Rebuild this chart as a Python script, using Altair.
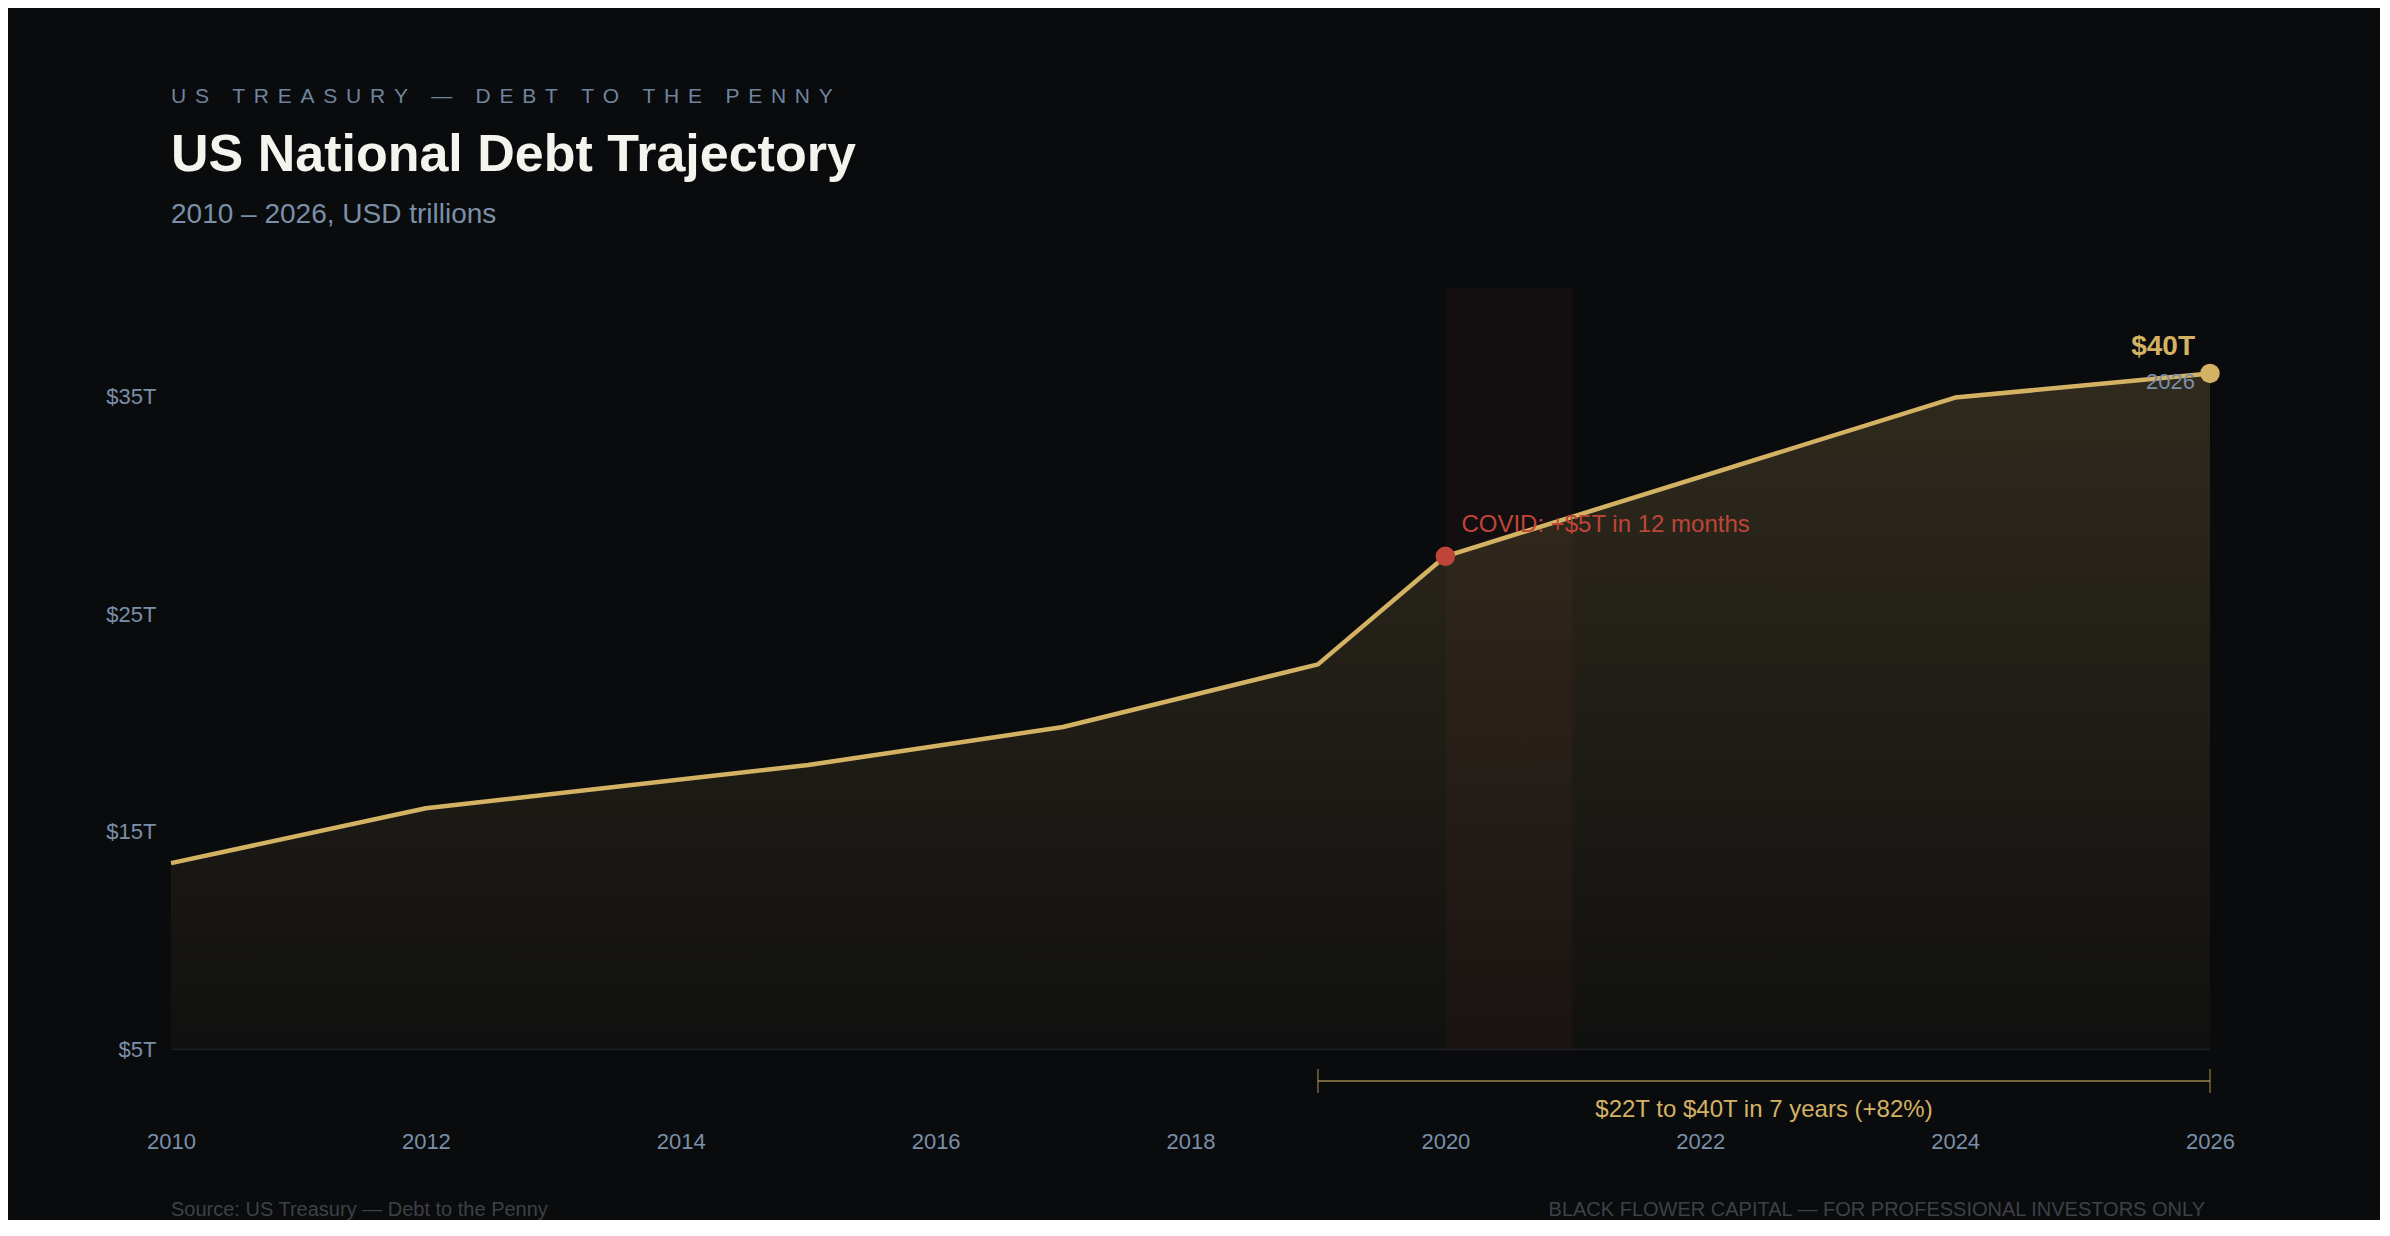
import altair as alt
import pandas as pd

# debt outstanding, USD trillions
YEARS = [2010, 2012, 2015, 2017, 2019, 2020, 2024, 2026]
DEBT = [13.55, 16.07, 18.06, 19.81, 22.69, 27.66, 34.96, 36.07]

Y_TICKS = [5, 15, 25, 35]
X_TICKS = [2010, 2012, 2014, 2016, 2018, 2020, 2022, 2024, 2026]

COVID_START = [2020]
COVID_END = [2021]
COVID_YEAR = [2020]
COVID_NOTE = ["COVID: +$5T in 12 months"]

RUN_START = [2019]
RUN_END = [2026]
RUN_NOTE = ["$22T to $40T in 7 years (+82%)"]

END_VALUE_LABEL = ["$40T"]
END_YEAR_LABEL = ["2026"]

EYEBROW = "US TREASURY — DEBT TO THE PENNY"
TITLE = "US National Debt Trajectory"
SUBTITLE = "2010 – 2026, USD trillions"
SOURCE = "Source: US Treasury — Debt to the Penny"
DISCLAIMER = "BLACK FLOWER CAPITAL — FOR PROFESSIONAL INVESTORS ONLY"

BG = "#0a0b0d"
GOLD = "#d4b264"
RED = "#bf4538"
SLATE = "#7a8fa8"
DIM = "#3d4148"
FONT = "Liberation Sans, Arial, Helvetica, sans-serif"

W, H = 2039, 761

debt = pd.DataFrame({"year": YEARS, "debt": DEBT})
covid = pd.DataFrame(
    {"start": COVID_START, "end": COVID_END, "year": COVID_YEAR,
     "debt": [DEBT[YEARS.index(COVID_YEAR[0])]], "note": COVID_NOTE}
)
run = pd.DataFrame({"start": RUN_START, "end": RUN_END, "note": RUN_NOTE})
end = pd.DataFrame(
    {"year": [YEARS[-1]], "debt": [DEBT[-1]],
     "value_label": END_VALUE_LABEL, "year_label": END_YEAR_LABEL}
)

x_scale = alt.Scale(domain=[2010, 2026], nice=False, zero=False)
y_scale = alt.Scale(domain=[5, 40], nice=False, zero=False)

x_axis = alt.Axis(
    values=X_TICKS, format="d", title=None, grid=False, ticks=False,
    domain=True, domainColor="#1c1f24", domainWidth=1.5,
    labelColor=SLATE, labelFont=FONT, labelFontSize=22, labelPadding=82,
    labelFlush=False,
)
y_axis = alt.Axis(
    values=Y_TICKS, labelExpr="'$' + datum.value + 'T'", title=None,
    grid=False, ticks=False, domain=False,
    labelColor=SLATE, labelFont=FONT, labelFontSize=22, labelPadding=15,
)


def X(field):
    return alt.X(field, scale=x_scale, axis=x_axis)


def Y(field):
    return alt.Y(field, scale=y_scale, axis=y_axis)


band = alt.Chart(covid).mark_rect(color=RED, opacity=0.05).encode(
    x=X("start:Q"),
    x2="end:Q",
    y=alt.datum(40, scale=y_scale, axis=y_axis),
    y2=alt.datum(5),
)

fill = alt.Gradient(
    gradient="linear",
    stops=[
        alt.GradientStop(color="rgba(212,178,100,0.19)", offset=0),
        alt.GradientStop(color="rgba(212,178,100,0.03)", offset=1),
    ],
    x1=1, x2=1, y1=0, y2=1,
)
area = alt.Chart(debt).mark_area(color=fill).encode(
    x=X("year:Q"), y=Y("debt:Q"), y2=alt.datum(5),
)

line = alt.Chart(debt).mark_line(color=GOLD, strokeWidth=4.5, strokeJoin="round").encode(
    x=X("year:Q"), y=Y("debt:Q"),
)

covid_dot = alt.Chart(covid).mark_point(filled=True, size=380, color=RED, opacity=1).encode(
    x=X("year:Q"), y=Y("debt:Q"),
)
covid_text = alt.Chart(covid).mark_text(
    color=RED, font=FONT, fontSize=24, align="left", baseline="middle", dx=16, dy=-31
).encode(x=X("year:Q"), y=Y("debt:Q"), text="note:N")

end_dot = alt.Chart(end).mark_point(filled=True, size=380, color=GOLD, opacity=1).encode(
    x=X("year:Q"), y=Y("debt:Q"),
)
end_value = alt.Chart(end).mark_text(
    color=GOLD, font=FONT, fontSize=28, fontWeight="bold",
    align="right", baseline="middle", dx=-15, dy=-26,
).encode(x=X("year:Q"), y=Y("debt:Q"), text="value_label:N")
end_year = alt.Chart(end).mark_text(
    color=SLATE, font=FONT, fontSize=22, align="right", baseline="middle", dx=-15, dy=9,
).encode(x=X("year:Q"), y=Y("debt:Q"), text="year_label:N")

# bracket under the axis for the 2019 -> 2026 run
run_line = alt.Chart(run).mark_rule(color=GOLD, strokeOpacity=0.55, strokeWidth=2).encode(
    x=X("start:Q"), x2="end:Q", y=alt.value(793),
)
run_ticks = (
    alt.Chart(run)
    .transform_fold(["start", "end"], as_=["edge", "at"])
    .mark_rule(color=GOLD, strokeOpacity=0.55, strokeWidth=1.5)
    .encode(x=X("at:Q"), y=alt.value(781), y2=alt.value(805))
)
run_text = (
    alt.Chart(run)
    .transform_calculate(mid="(datum.start + datum.end) / 2")
    .mark_text(color=GOLD, font=FONT, fontSize=24, baseline="middle")
    .encode(x=X("mid:Q"), y=alt.value(822), text="note:N")
)


def caption(text, y, size, color, align="left", x=0, weight="normal",
            baseline="alphabetic"):
    return alt.Chart(pd.DataFrame({"t": [text]})).mark_text(
        color=color, font=FONT, fontSize=size, fontWeight=weight, align=align,
        baseline=baseline,
    ).encode(x=alt.value(x), y=alt.value(y), text="t:N")


# vega text has no letter-spacing, so track the eyebrow with narrow spaces
tracked = "\u2004\u200a".join(EYEBROW)

eyebrow = caption(tracked, -185, 21, "#6f859e")
title = caption(TITLE, -117, 52, "#f5f3ee", weight="bold")
subtitle = caption(SUBTITLE, -65, 28, SLATE)
source = caption(SOURCE, 922, 20, DIM, baseline="middle")
disclaimer = caption(DISCLAIMER, 922, 20, DIM, align="right", x=2034, baseline="middle")

chart = (
    alt.layer(
        band, area, line, covid_dot, covid_text, end_dot, end_value, end_year,
        run_line, run_ticks, run_text, eyebrow, title, subtitle, source, disclaimer,
    )
    .properties(
        width=W, height=H, background=BG,
        autosize=alt.AutoSizeParams(type="none"),
        padding={"left": 163, "top": 280, "right": 170, "bottom": 171},
    )
    .configure_view(strokeWidth=0)
)

chart.save("out.html", embed_options={"renderer": "svg", "actions": False})
